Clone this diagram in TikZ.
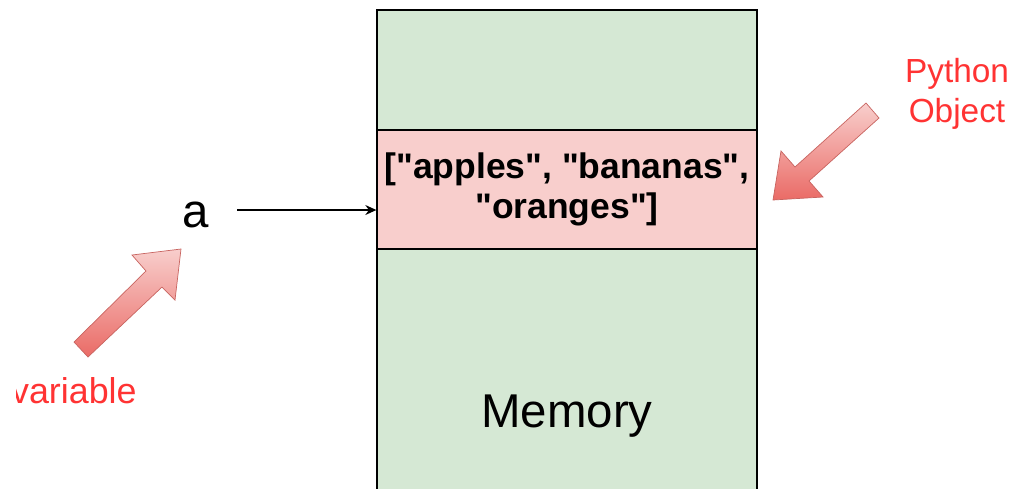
\documentclass[tikz,border=0pt]{standalone}
\usepackage{fontspec}
\setmainfont{Liberation Sans}[Ligatures=TeXOff]
\usetikzlibrary{arrows.meta}

\definecolor{cellgreen}{HTML}{D5E8D4}
\definecolor{cellpink}{HTML}{F8CECC}
\definecolor{arrowlight}{HTML}{F8CECC}
\definecolor{arrowdark}{HTML}{EA6B66}
\definecolor{arrowline}{HTML}{C86460}
\definecolor{notered}{HTML}{FF3333}

\begin{document}
\begin{tikzpicture}[x=0.02cm, y=-0.02cm,
    >={Stealth[length=2.2mm, width=2mm]},
    cell/.style={draw, line width=0.8pt, minimum width=7.6cm, inner sep=0pt},
    note/.style={text=notered, font=\fontsize{19}{22.7}\selectfont, align=center},
    blockarrow/.style={draw=arrowline, line width=0.4pt, top color=arrowlight, bottom color=arrowdark}]

     \useasboundingbox (0, 0) rectangle (1017, 488);

     \node (top) at (567, 70) [cell, fill=cellgreen, minimum height=2.4cm] {};
     \node (obj) at (567, 189.5) [cell, fill=cellpink, minimum height=2.38cm, align=center,
          font=\fontsize{20.2}{22.7}\selectfont\bfseries]
          {["apples", "bananas",\\ "oranges"]};
     \node (mem) at (567, 416) [cell, fill=cellgreen, minimum height=6.68cm,
          font=\fontsize{27}{32}\selectfont] {Memory};

     \node (a) at (196, 227) [anchor=base, inner sep=0pt, minimum width=1.64cm,
          text height=0.68cm, text depth=0pt, font=\fontsize{27}{32}\selectfont] {a};
     \draw [->, line width=0.7pt] (a.east) -- (a.east -| obj.west);

     \begin{scope}
          \clip (16, 0) rectangle (1017, 488);
          \node (var) at (137, 391) [note, anchor=east, inner sep=0pt,
               font=\fontsize{20.4}{24}\selectfont] {variable};
     \end{scope}
     \node (pyobj) at (957, 94) [note, inner sep=0pt] {Python\\Object};

     % block arrows
     \draw [blockarrow] (74, 342) -- (146, 271) -- (132, 255) -- (181, 249)
          -- (175, 300) -- (162, 287) -- (88, 357) -- cycle;
     \draw [blockarrow] (866, 103) -- (795, 167) -- (781, 151) -- (773, 200)
          -- (823, 197) -- (809, 181) -- (879, 118) -- cycle;

\end{tikzpicture}
\end{document}
